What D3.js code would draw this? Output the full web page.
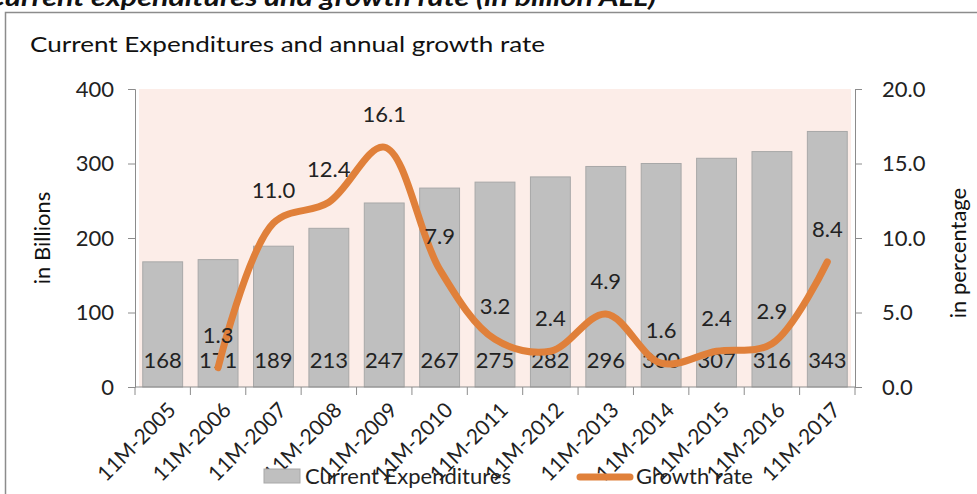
<!DOCTYPE html>
<html>
<head>
<meta charset="utf-8">
<script src="https://cdn.jsdelivr.net/npm/d3@7"></script>
<style>
  body { margin: 0; background: #fff; }
  svg { display: block; font-family: Lato, "Open Sans", sans-serif; }
</style>
</head>
<body>
<svg id="chart" width="977" height="494"></svg>
<script>
// chart data
const years = ['11M-2005','11M-2006','11M-2007','11M-2008','11M-2009','11M-2010','11M-2011',
  '11M-2012','11M-2013','11M-2014','11M-2015','11M-2016','11M-2017'];
const expenditures = [168,171,189,213,247,267,275,282,296,300,307,316,343];
const growth = [null,1.3,11.0,12.4,16.1,7.9,3.2,2.4,4.9,1.6,2.4,2.9,8.4];
const leftTicks = [0,100,200,300,400];
const rightTicks = [0,5,10,15,20];

const svg = d3.select('#chart');
const m = { left: 135, right: 855, top: 89, bottom: 387 };

const x = d3.scaleBand().domain(years).range([m.left, m.right]).paddingInner(0.28).paddingOuter(0.14);
const y = d3.scaleLinear().domain([0, 400]).range([m.bottom, m.top]);
const y2 = d3.scaleLinear().domain([0, 20]).range([m.bottom, m.top]);

// heading above the box (cut by the top edge, as in the source)
svg.append('text')
  .attr('x', -14).attr('y', 6)
  .attr('font-size', 24).attr('font-weight', 'bold').attr('font-style', 'italic')
  .attr('fill', '#111')
  .attr('textLength', 670).attr('lengthAdjust', 'spacingAndGlyphs')
  .text('Current expenditures and growth rate (in billion ALL)');

// frame
svg.append('path')
  .attr('d', 'M5.5,494 V12.5 H977')
  .attr('fill', 'none').attr('stroke', '#8c8c8c').attr('stroke-width', 1.5);

svg.append('text')
  .attr('x', 30).attr('y', 52)
  .attr('font-size', 22).attr('fill', '#111')
  .attr('textLength', 515).attr('lengthAdjust', 'spacingAndGlyphs')
  .text('Current Expenditures and annual growth rate');

// plot background
svg.append('rect')
  .attr('x', m.left + 4).attr('y', m.top)
  .attr('width', m.right - m.left - 8).attr('height', m.bottom - m.top)
  .attr('fill', '#fcede8');

// bars
svg.append('g').selectAll('rect')
  .data(expenditures)
  .join('rect')
  .attr('x', (d, i) => x(years[i]))
  .attr('y', d => y(d))
  .attr('width', x.bandwidth())
  .attr('height', d => y(0) - y(d))
  .attr('fill', '#bfbfbf')
  .attr('stroke', '#a8a8a8')
  .attr('stroke-width', 1);

// left axis
const gl = svg.append('g').attr('transform', `translate(${m.left},0)`)
  .call(d3.axisLeft(y).tickValues(leftTicks).tickSize(7).tickPadding(14));
gl.selectAll('text').attr('font-size', 22).attr('fill', '#222').attr('font-family', 'Lato');

// right axis
const gr = svg.append('g').attr('transform', `translate(${m.right},0)`)
  .call(d3.axisRight(y2).tickValues(rightTicks).tickSize(7).tickPadding(20).tickFormat(d3.format('.1f')));
gr.selectAll('text').attr('font-size', 22).attr('fill', '#222').attr('font-family', 'Lato');

// bottom axis (ticks at band edges)
const edges = years.map(c => x(c) - x.step() * x.paddingInner() / 2).concat([m.right]);
svg.append('line')
  .attr('x1', m.left).attr('x2', m.right).attr('y1', m.bottom).attr('y2', m.bottom)
  .attr('stroke', '#8c8c8c');
svg.append('g').selectAll('line')
  .data(edges)
  .join('line')
  .attr('x1', d => d).attr('x2', d => d)
  .attr('y1', m.bottom).attr('y2', m.bottom + 8)
  .attr('stroke', '#8c8c8c');
[gl, gr].forEach(g => {
  g.selectAll('path, line').attr('stroke', '#8c8c8c');
});

svg.append('g').selectAll('text')
  .data(years)
  .join('text')
  .attr('transform', d => `translate(${x(d) + x.bandwidth() / 2 + 4},${m.bottom + 14}) rotate(-45)`)
  .attr('text-anchor', 'end')
  .attr('dy', '0.7em')
  .attr('font-size', 21).attr('fill', '#222')
  .text(d => d);

// bar value labels
svg.append('g').selectAll('text')
  .data(expenditures)
  .join('text')
  .attr('x', (d, i) => x(years[i]) + x.bandwidth() / 2)
  .attr('y', m.bottom - 19)
  .attr('text-anchor', 'middle')
  .attr('font-size', 22).attr('fill', '#222')
  .text(d => d);

// growth line
const pts = growth.map((v, i) => [x(years[i]) + x.bandwidth() / 2, v]).filter(p => p[1] != null);
const line = d3.line()
  .x(p => p[0])
  .y(p => y2(p[1]))
  .curve(d3.curveCatmullRom.alpha(0.5));
svg.append('path')
  .datum(pts)
  .attr('d', line)
  .attr('fill', 'none')
  .attr('stroke', '#e0803a')
  .attr('stroke-width', 7)
  .attr('stroke-linecap', 'round')
  .attr('stroke-linejoin', 'round');

svg.append('g').selectAll('text')
  .data(pts)
  .join('text')
  .attr('x', p => p[0])
  .attr('y', p => y2(p[1]) - 25)
  .attr('text-anchor', 'middle')
  .attr('font-size', 22).attr('fill', '#222')
  .text(p => d3.format('.1f')(p[1]));

// axis titles
svg.append('text')
  .attr('transform', `translate(50,${(m.top + m.bottom) / 2}) rotate(-90)`)
  .attr('text-anchor', 'middle')
  .attr('font-size', 22).attr('fill', '#111')
  .text('in Billions');
svg.append('text')
  .attr('transform', `translate(966,${(m.top + m.bottom) / 2 + 15}) rotate(-90)`)
  .attr('text-anchor', 'middle')
  .attr('font-size', 22).attr('fill', '#111')
  .text('in percentage');

// legend
const lg = svg.append('g');
lg.append('rect')
  .attr('x', 264).attr('y', 469).attr('width', 36).attr('height', 14)
  .attr('fill', '#bfbfbf').attr('stroke', '#a8a8a8');
lg.append('text')
  .attr('x', 305).attr('y', 484)
  .attr('font-size', 22).attr('fill', '#222')
  .text('Current Expenditures');
lg.append('line')
  .attr('x1', 580).attr('x2', 630).attr('y1', 477).attr('y2', 477)
  .attr('stroke', '#e0803a').attr('stroke-width', 7).attr('stroke-linecap', 'round');
lg.append('text')
  .attr('x', 636).attr('y', 484)
  .attr('font-size', 22).attr('fill', '#222')
  .text('Growth rate');
</script>
</body>
</html>
